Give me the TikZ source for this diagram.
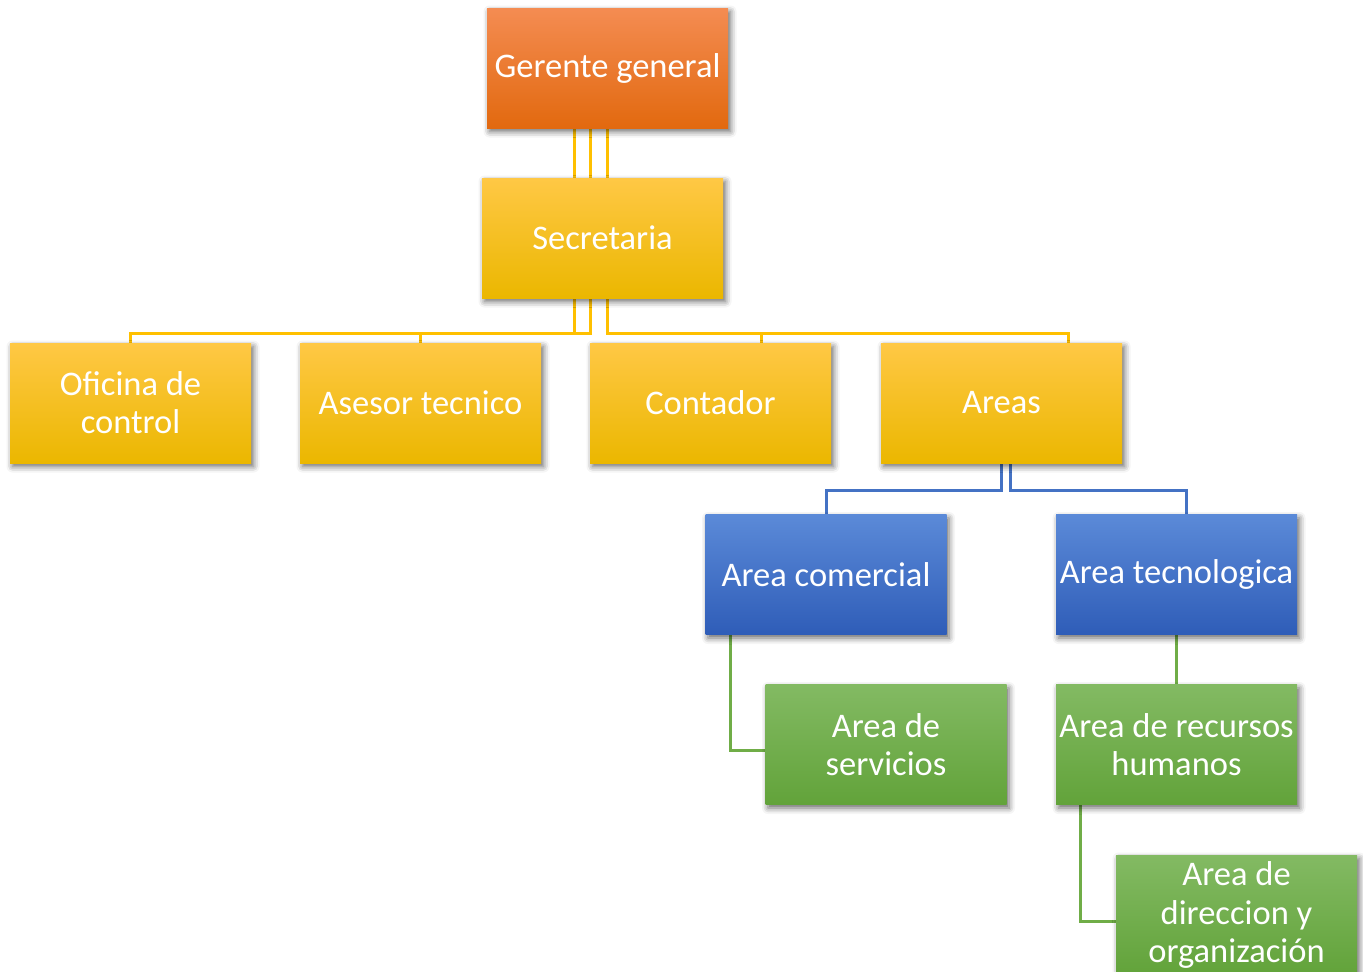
\documentclass[tikz,border=0pt]{standalone}
\usepackage{fontspec}
\setmainfont{Carlito}
\usetikzlibrary{shadows.blur,backgrounds}
\definecolor{orT}{HTML}{F48C52}\definecolor{orM}{HTML}{EE7229}\definecolor{orB}{HTML}{E2690F}
\definecolor{yeT}{HTML}{FFC845}\definecolor{yeM}{HTML}{FFC300}\definecolor{yeB}{HTML}{EBB700}
\definecolor{blT}{HTML}{5B8AD8}\definecolor{blM}{HTML}{3C6DCB}\definecolor{blB}{HTML}{2F5DB8}
\definecolor{grT}{HTML}{83BA63}\definecolor{grM}{HTML}{70AF46}\definecolor{grB}{HTML}{62A33A}
\definecolor{lnY}{HTML}{FFC000}\definecolor{lnB}{HTML}{4472C4}\definecolor{lnG}{HTML}{70AD47}
\tikzset{
  box/.style={minimum width=241pt, minimum height=120pt, inner sep=0pt, align=center,
    text=white, font=\fontsize{34.5}{38.2}\selectfont,
    blur shadow={shadow xshift=2.5pt, shadow yshift=-3.5pt, shadow blur radius=6pt, shadow opacity=60}},
  orbox/.style={box, top color=orT, middle color=orM, bottom color=orB},
  yebox/.style={box, top color=yeT, middle color=yeM, bottom color=yeB},
  blbox/.style={box, top color=blT, middle color=blM, bottom color=blB},
  grbox/.style={box, top color=grT, middle color=grM, bottom color=grB},
  lny/.style={draw=lnY, line width=3pt},
  lnb/.style={draw=lnB, line width=3pt},
  lng/.style={draw=lnG, line width=3pt},
}
\begin{document}
\begin{tikzpicture}[x=1pt,y=-1pt]
\useasboundingbox (0,0) rectangle (1363,972);
\begin{scope}
\clip (0,0) rectangle (1363,972);
\node[orbox] (ger) at (607.5,68) {Gerente general};
\node[yebox] (sec) at (602.5,238) {Secretaria};
\node[yebox] (ofi) at (130.5,403) {Oficina de\\control};
\node[yebox] (ase) at (420.5,403) {Asesor tecnico};
\node[yebox] (con) at (710.5,403) {Contador};
\node[yebox] (are) at (1001.5,403) {Areas};
\node[blbox] (com) at (826,574.5) {Area comercial};
\node[blbox] (tec) at (1176.5,574.5) {Area tecnologica};
\node[grbox] (ser) at (886,744.5) {Area de\\servicios};
\node[grbox] (rrh) at (1176.5,744.5) {Area de recursos\\humanos};
\node[grbox] (dir) at (1236.5,915) {Area de\\direccion y\\organización};
\begin{scope}[on background layer]
\draw[lny] ([xshift=-33.5pt]ger.south) -- ++(0,205) -| (ofi.north);
\draw[lny] ([xshift=-17pt]ger.south) -- ++(0,205) -| (ase.north);
\draw[lny] (ger.south) -- ++(0,205) -| ([xshift=50.5pt]con.north);
\draw[lny] (ger.south) -- ++(0,205) -| ([xshift=67pt]are.north);
\draw[lnb] (are.south) -- ++(0,27) -| (com.north);
\draw[lnb] ([xshift=9pt]are.south) -- ++(0,27) -| ([xshift=10pt]tec.north);
\draw[lng] ([xshift=-96pt]com.south) |- ([yshift=-5.5pt]ser.west);
\draw[lng] (tec.south) -- (rrh.north);
\draw[lng] ([xshift=-96.5pt]rrh.south) |- ([yshift=-6pt]dir.west);
\end{scope}
\end{scope}
\end{tikzpicture}
\end{document}
